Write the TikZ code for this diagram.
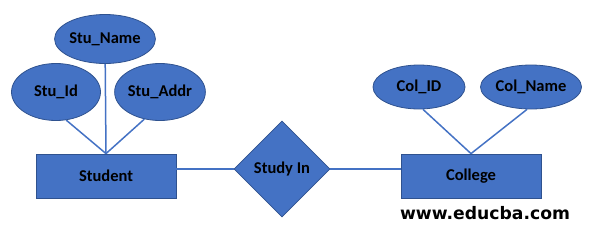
\documentclass[tikz,border=0pt]{standalone}
\usepackage{fontspec}
\setmainfont{Carlito}
\newfontfamily\webfont{DejaVu Sans}
\usepackage{xcolor}
\usepackage{tikz}
\usetikzlibrary{shapes.geometric,positioning}
\definecolor{ErFill}{HTML}{4472C4}
\definecolor{ErBorder}{HTML}{2F528F}

\begin{document}
\begin{tikzpicture}[x=1pt,y=-1pt, every node/.style={font=\fontsize{16.5}{18}\selectfont\bfseries},
    entity/.style={draw=ErBorder,fill=ErFill,line width=0.8pt,minimum width=140pt,minimum height=44pt,inner sep=0pt},
    attrib/.style={ellipse,draw=ErBorder,fill=ErFill,line width=0.8pt,inner sep=0pt},
    relation/.style={diamond,draw=ErBorder,fill=ErFill,line width=0.8pt,minimum width=96pt,minimum height=96pt,inner sep=0pt},
    link/.style={draw=ErFill,line width=1.5pt}]
      \useasboundingbox (0,0) rectangle (591,228);
      % student side
      \node[entity] (student) at (106,176) {Student};
      \node[attrib,minimum width=97pt,minimum height=49pt] (sname) at (105,39) {Stu\_Name};
      \node[attrib,minimum width=89pt,minimum height=57pt] (sid) at (56,92) {Stu\_Id};
      \node[attrib,minimum width=87pt,minimum height=57pt] (saddr) at (160,92) {Stu\_Addr};
      % relationship and college side
      \node[relation] (studyin) at (282,169) {Study In};
      \node[entity] (college) at (471,176) {College};
      \node[attrib,minimum width=92pt,minimum height=44pt] (cid) at (419,87) {Col\_ID};
      \node[attrib,minimum width=101pt,minimum height=44pt] (cname) at (531,87) {Col\_Name};
      \node[font=\webfont\fontsize{17.2}{19}\selectfont\bfseries] (web) at (485,213) {www.educba.com};

      \draw[link] (sname) -- (student.north);
      \draw[link] (sid.290) -- (student.north);
      \draw[link] (saddr.240) -- (student.north);
      \draw[link] (cid.280) -- (college.north);
      \draw[link] (cname.260) -- (college.north);
      \draw[link] (studyin.west) -- (studyin.west -| student.east);
      \draw[link] (studyin.east) -- (studyin.east -| college.west);
    \end{tikzpicture}
\end{document}
